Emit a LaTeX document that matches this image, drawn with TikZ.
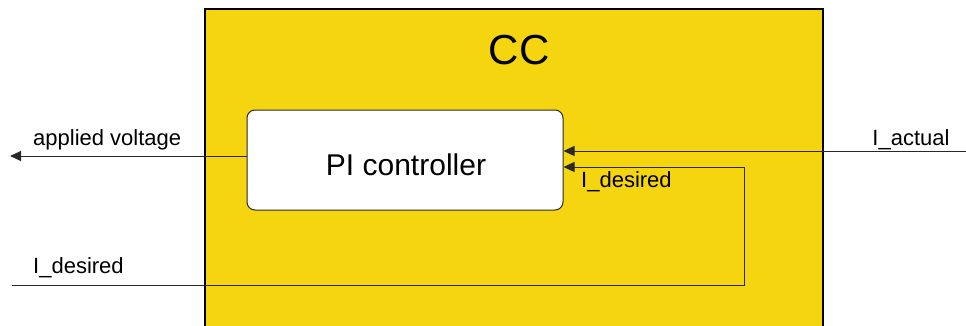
\documentclass[tikz,border=0pt]{standalone}
\usepackage{fontspec}
\setmainfont{Liberation Sans}
\usetikzlibrary{arrows.meta}
\definecolor{ccyellow}{RGB}{245,213,16}
\definecolor{linegray}{RGB}{40,40,40}
\tikzset{
  lbl/.style={inner sep=0pt, font=\fontsize{22}{26}\selectfont},
  arr/.style={draw=linegray, line width=1pt, -{Triangle[length=11pt,width=10pt]}},
  wire/.style={draw=linegray, line width=1pt},
  pibox/.style={draw=linegray, line width=1pt, fill=white, rounded corners=8pt,
    minimum width=316pt, minimum height=100pt, inner sep=0pt,
    font=\fontsize{30}{34}\selectfont},
}
\begin{document}
\begin{tikzpicture}[x=1pt,y=-1pt]
\useasboundingbox (0,0) rectangle (966,325);
% CC block
\fill[ccyellow] (205,9) rectangle (823,330);
\draw[line width=1.2pt] (205,330) -- (205,9) -- (823,9) -- (823,330);
\node[inner sep=0pt, font=\fontsize{42}{46}\selectfont, anchor=base] (cc) at (519,64) {CC};
% PI controller
\node[pibox] (pi) at (405,160) {};
\node[inner sep=0pt, font=\fontsize{30}{34}\selectfont, anchor=base] (pitext) at (406,175) {PI controller};
% coordinates
\coordinate (av) at (10,156);
\coordinate (ia) at (966,151);
\coordinate (id) at (12,285);
\coordinate (c1) at (744,285);
\coordinate (c2) at (744,167);
% connectors
\draw[arr] (pi.west |- av) -- (av);
\draw[arr] (ia) -- (ia -| pi.east);
\draw[arr] (id) -- (c1) -- (c2) -- (c2 -| pi.east);
% labels
\node[lbl, anchor=base west] (lav) at (33,145) {applied voltage};
\node[lbl, anchor=base] (lia) at (911,145) {I\_actual};
\node[lbl, anchor=base west] (lid1) at (581,187) {I\_desired};
\node[lbl, anchor=base west] (lid2) at (33,273) {I\_desired};
\end{tikzpicture}
\end{document}
